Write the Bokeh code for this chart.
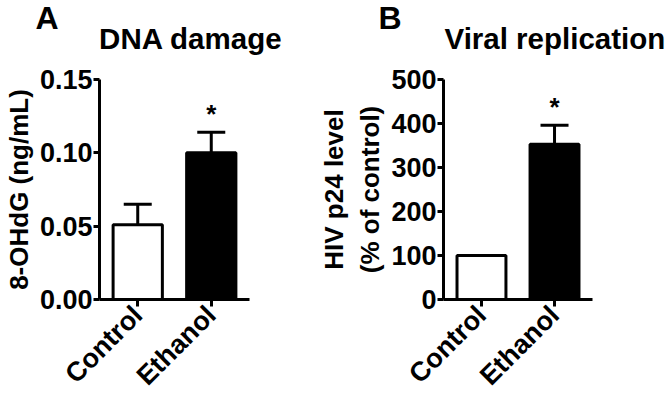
import math
from bokeh.plotting import figure
from bokeh.models import (FactorRange, Range1d, FixedTicker, PrintfTickFormatter,
                          Whisker, TeeHead, ColumnDataSource, Title, CategoricalAxis)
from bokeh.layouts import row
from bokeh.embed import file_html
from bokeh.resources import INLINE
from bokeh.core.properties import value

# ---- data ----
groups = ["Control", "Ethanol"]
bar_colors = ["white", "black"]
significance = ["", "*"]

dna_mean = [0.051, 0.100]
dna_sem = [0.014, 0.014]
dna_ticks = [0.0, 0.05, 0.10, 0.15]

p24_mean = [100, 353]
p24_sem = [0, 43]
p24_ticks = [0, 100, 200, 300, 400, 500]

FONT = "Liberation Sans"
NBSP = "\u00a0"


def make_panel(letter, title, ylabel, means, sems, ticks, fmt, width,
               b_left, b_right, title_shift, letter_offset):
    src = ColumnDataSource(dict(
        g=groups, mean=means, upper=[m + s for m, s in zip(means, sems)],
        color=bar_colors, sig=significance))
    p = figure(width=width, height=406, output_backend="svg", toolbar_location=None,
               title=None,
               x_range=FactorRange(*groups, range_padding=0.02, range_padding_units="absolute"),
               y_range=Range1d(ticks[0], ticks[-1]),
               min_border_left=b_left, min_border_right=b_right,
               min_border_top=79, min_border_bottom=107)
    p.outline_line_color = None
    p.xgrid.visible = False
    p.ygrid.visible = False
    p.background_fill_color = "white"

    p.vbar(x="g", top="mean", width=0.67, source=src, fill_color="color",
           line_color="black", line_width=3)
    wh = Whisker(base="g", upper="upper", lower="mean", source=src, dimension="height",
                 upper_head=TeeHead(size=28, line_width=3, line_color="black"),
                 lower_head=None, line_width=3, line_color="black", level="annotation")
    p.add_layout(wh)
    p.text(x="g", y="upper", text="sig", source=src, y_offset=-18,
           text_align="center", text_baseline="alphabetic",
           text_font=value(FONT), text_font_style="bold", text_font_size="26px",
           text_color="black")

    xaxis = p.xaxis[0]
    yaxis = p.yaxis[0]
    for ax in (xaxis, yaxis):
        ax.axis_line_width = 3
        ax.axis_line_color = "black"
        ax.major_tick_line_width = 3
        ax.major_tick_line_color = "black"
        ax.major_tick_in = 0
        ax.minor_tick_in = 0
        ax.minor_tick_out = 0
        ax.major_label_text_font = FONT
        ax.major_label_text_font_style = "bold"
        ax.major_label_text_font_size = "27px"
        ax.major_label_text_color = "black"
        ax.axis_label_text_font = FONT
        ax.axis_label_text_font_style = "bold"
        ax.axis_label_text_font_size = "26px"
        ax.axis_label_text_color = "black"

    xaxis.major_tick_out = 7
    xaxis.major_label_orientation = math.pi / 4
    xaxis.major_label_standoff = 4

    yaxis.major_tick_out = 6
    yaxis.major_label_standoff = 1
    yaxis.axis_label_standoff = 3
    yaxis.ticker = FixedTicker(ticks=ticks)
    yaxis.formatter = PrintfTickFormatter(format=fmt)
    yaxis.axis_label = ylabel

    # chart title: label of a bare axis above the frame (no line, ticks or tick labels)
    tax = CategoricalAxis(ticker=FixedTicker(ticks=[]),
                          axis_label=NBSP * title_shift + title, axis_label_standoff=25,
                          axis_line_color=None, major_tick_out=0, major_tick_in=0,
                          minor_tick_out=0, minor_tick_in=0, major_label_standoff=0,
                          axis_label_text_font=FONT, axis_label_text_font_style="bold",
                          axis_label_text_font_size="29.5px", axis_label_text_color="black")
    p.add_layout(tax, "above")

    # panel letter
    p.add_layout(Title(text=letter, align="left", offset=letter_offset, standoff=-34,
                       text_font=FONT, text_font_style="bold", text_font_size="32px",
                       text_color="black"), "above")
    return p


pa = make_panel("A", "DNA damage", "8-OHdG (ng/mL)", dna_mean, dna_sem, dna_ticks, "%.2f",
                316, 96, 67, 4, -64)
pb = make_panel("B", "Viral replication", "HIV p24 level\n(% of control)", p24_mean, p24_sem,
                p24_ticks, "%d", 351, 122, 75, 9, -65)

layout = row(pa, pb)
open("out.html", "w").write(file_html(layout, INLINE))
